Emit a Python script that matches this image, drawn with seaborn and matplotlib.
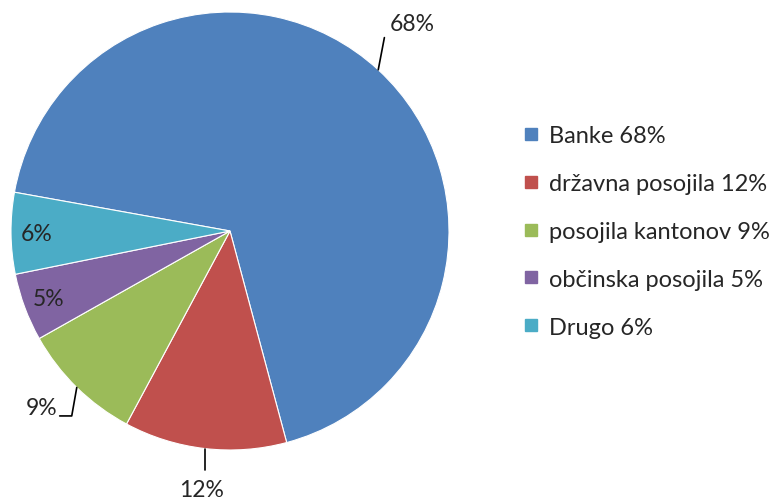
import numpy as np
import matplotlib
matplotlib.use("Agg")
import matplotlib.pyplot as plt
import seaborn as sns
from matplotlib.lines import Line2D

sns.set_theme(style="white")
plt.rcParams['font.family'] = ['Lato', 'DejaVu Sans']

categories = ["Banke", "državna posojila", "posojila kantonov", "občinska posojila", "Drugo"]
values = [68, 12, 9, 5, 6]
colors = ["#4F81BD", "#C0504D", "#9BBB59", "#8064A2", "#4BACC6"]

fig = plt.figure(figsize=(7.74, 5.02), dpi=100)
ax = fig.add_axes([11/774, 51/502, 438/774, 438/502])

start = 169.8
wedges, _ = ax.pie(values, colors=colors, startangle=start, counterclock=False,
                   radius=1, wedgeprops=dict(edgecolor="white", linewidth=0.8))
ax.set_xlim(-1, 1)
ax.set_ylim(-1, 1)
ax.set_aspect("equal")
ax.axis("off")

total = sum(values)
fs = 16.5
ang = start
mids = []
for v in values:
    span = 360 * v / total
    mids.append(ang - span / 2)
    ang -= span

def pt(a, r):
    t = np.deg2rad(a)
    return r * np.cos(t), r * np.sin(t)

labels = [f"{v}%" for v in values]
# Banke: outside, upper right
a = mids[0]
x0, y0 = pt(a, 1.0); x1, y1 = pt(a + 4, 1.13)
ax.plot([x0, x1], [y0, y1], color="black", lw=1.2, clip_on=False)
lx, ly = pt(a + 2.0, 1.25)
ax.text(lx + 0.02, ly, labels[0], fontsize=fs, ha="center", va="center", clip_on=False)
# državna: below
a = mids[1]
x0, y0 = pt(a, 1.0)
ax.plot([x0, x0], [y0, y0 - 0.10], color="black", lw=1.2, clip_on=False)
ax.text(x0 - 0.015, y0 - 0.185, labels[1], fontsize=fs, ha="center", va="center", clip_on=False)
# kantonov: lower left with elbow
a = mids[2]
x0, y0 = pt(a, 1.0)
xe, ye = x0 - 0.023, y0 - 0.13
ax.plot([x0, xe, xe - 0.055], [y0, ye, ye], color="black", lw=1.2, clip_on=False)
ax.text(xe - 0.065, ye + 0.04, labels[2], fontsize=fs, ha="right", va="center", clip_on=False)
# inside labels
for i in (3, 4):
    x, y = pt(mids[i], 0.885)
    ax.text(x, y, labels[i], fontsize=fs, ha="center", va="center")

handles = [Line2D([0], [0], marker="s", linestyle="none", markersize=9,
                  markerfacecolor=c, markeredgecolor=c) for c in colors]
leg_labels = [f"{c} {v}%" for c, v in zip(categories, values)]
fig.legend(handles, leg_labels, loc="upper left", bbox_to_anchor=(522/774, 1 - 126/502),
           frameon=False, fontsize=17, labelspacing=1.14, handlelength=0.8,
           handletextpad=0.35, borderaxespad=0, borderpad=0)

fig.savefig("out.png", dpi=100)
